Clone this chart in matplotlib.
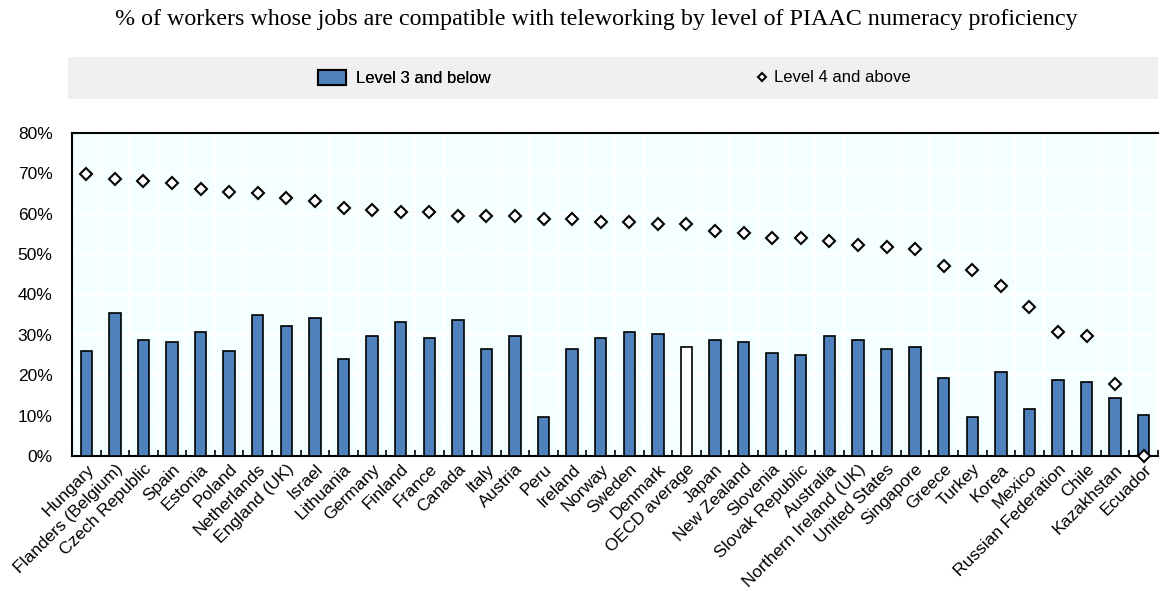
import numpy as np
import matplotlib
matplotlib.use("Agg")
import matplotlib.pyplot as plt
from matplotlib.patches import Rectangle, Patch
from matplotlib.lines import Line2D

plt.rcParams["font.family"] = ["Liberation Sans", "DejaVu Sans"]

countries = ["Hungary", "Flanders (Belgium)", "Czech Republic", "Spain", "Estonia", "Poland",
             "Netherlands", "England (UK)", "Israel", "Lithuania", "Germany", "Finland", "France",
             "Canada", "Italy", "Austria", "Peru", "Ireland", "Norway", "Sweden", "Denmark",
             "OECD average", "Japan", "New Zealand", "Slovenia", "Slovak Republic", "Australia",
             "Northern Ireland (UK)", "United States", "Singapore", "Greece", "Turkey", "Korea",
             "Mexico", "Russian Federation", "Chile", "Kazakhstan", "Ecuador"]
level3_below = [26.1, 35.4, 28.7, 28.2, 30.7, 26.1, 34.8, 32.2, 34.3, 24.0, 29.7, 33.3, 29.2,
                33.8, 26.5, 29.7, 9.7, 26.5, 29.2, 30.7, 30.2, 27.0, 28.7, 28.2, 25.5, 25.0,
                29.7, 28.7, 26.5, 27.0, 19.4, 9.7, 20.9, 11.7, 18.8, 18.3, 14.3, 10.2]
level4_above = [69.8, 68.7, 68.2, 67.7, 66.1, 65.5, 65.1, 64.0, 63.1, 61.5, 60.9, 60.5, 60.5,
                59.4, 59.4, 59.4, 58.8, 58.8, 57.9, 57.9, 57.4, 57.4, 55.8, 55.3, 53.9, 53.9,
                53.3, 52.2, 51.7, 51.2, 47.1, 46.0, 42.1, 36.9, 30.7, 29.6, 17.9, 0.0]

blue = "#4F81BD"
x = np.arange(len(countries))
colors = ["white" if c == "OECD average" else blue for c in countries]

fig = plt.figure(figsize=(11.62, 5.91), dpi=100)
ax = fig.add_axes([72 / 1162, 1 - 456 / 591, 1086 / 1162, 323 / 591])
ax.set_facecolor("#F4FFFF")

ax.bar(x, level3_below, width=0.4, color=colors, edgecolor="black", linewidth=1.2, zorder=3)
ax.plot(x, level4_above, linestyle="none", marker="D", markersize=6.5, markerfacecolor="white",
        markeredgecolor="black", markeredgewidth=1.5, zorder=4, clip_on=False)

ax.set_xlim(-0.5, len(countries) - 0.5)
ax.set_ylim(0, 80)
ax.set_yticks(range(0, 81, 10))
ax.set_yticklabels([f"{v}%" for v in range(0, 81, 10)], fontsize=12.5)
ax.tick_params(axis="y", length=0, pad=14)

# category separators: gridlines + small inward ticks
ax.set_xticks(x + 0.5, minor=True)
ax.set_xticks(x)
ax.set_xticklabels(countries, rotation=45, ha="right", rotation_mode="anchor", fontsize=12.5)
ax.tick_params(axis="x", which="major", length=0, pad=4)
ax.tick_params(axis="x", which="minor", length=4, width=1.2, direction="in")
ax.grid(True, axis="y", color="white", linewidth=1.5, zorder=0)
ax.grid(True, axis="x", which="minor", color="white", linewidth=1.5, zorder=0)
ax.set_axisbelow(True)

for s in ["left", "top", "bottom"]:
    ax.spines[s].set_linewidth(1.5)
ax.spines["right"].set_visible(False)

fig.text(596 / 1162, 1 - 19 / 591, "% of workers whose jobs are compatible with teleworking by level of PIAAC numeracy proficiency",
         ha="center", va="center", fontsize=17.3, family="Liberation Serif")

fig.patches.append(Rectangle((68 / 1162, 1 - 99 / 591), 1090 / 1162, 42 / 591,
                             transform=fig.transFigure, facecolor="#F0F0F0", edgecolor="none", zorder=0))

leg1 = fig.legend([Patch(facecolor=blue, edgecolor="black", linewidth=1.5)], ["Level 3 and below"],
                  frameon=False, loc="center left", bbox_to_anchor=(318 / 1162, 1 - 78 / 591),
                  fontsize=12, borderpad=0, borderaxespad=0,
                  handlelength=1.65, handleheight=1.0, handletextpad=0.6)
leg2 = fig.legend([Line2D([], [], linestyle="none", marker="D", markersize=4.5, markerfacecolor="white",
                          markeredgecolor="black", markeredgewidth=1.5)], ["Level 4 and above"],
                  frameon=False, loc="center left", bbox_to_anchor=(756 / 1162, 1 - 78 / 591),
                  fontsize=12, borderpad=0, borderaxespad=0,
                  handlelength=0.75, handletextpad=0.3)
fig.add_artist(leg1)

fig.savefig("out.png", dpi=100)
